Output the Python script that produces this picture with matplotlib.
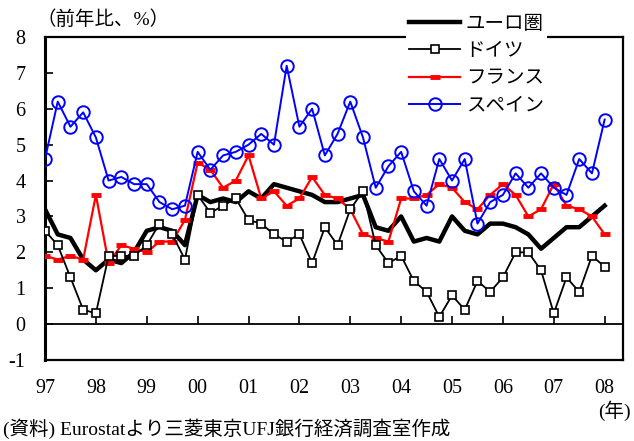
import numpy as np
import matplotlib
matplotlib.use("Agg")
import matplotlib.pyplot as plt

plt.rcParams['font.family'] = ['Liberation Serif', 'Noto Sans CJK JP']
plt.rcParams['axes.unicode_minus'] = False

# quarterly, 1997Q1 .. 2008Q1 (year-on-year %)
quarters = 1997 + np.arange(45) * 0.25

euro = [3.2, 2.5, 2.4, 1.8, 1.5, 1.8, 1.7, 2.0, 2.6, 2.7, 2.6, 2.2,
        3.6, 3.4, 3.5, 3.4, 3.7, 3.5, 3.9, 3.8, 3.7, 3.6, 3.4, 3.4,
        3.5, 3.6, 2.7, 2.6, 3.0, 2.3, 2.4, 2.3, 3.0, 2.6, 2.5, 2.8,
        2.8, 2.7, 2.5, 2.1, 2.4, 2.7, 2.7, 3.0, 3.3]
germany = [2.6, 2.2, 1.3, 0.4, 0.3, 1.9, 1.9, 1.9, 2.2, 2.8, 2.5, 1.8,
           3.6, 3.1, 3.3, 3.5, 2.9, 2.8, 2.5, 2.3, 2.5, 1.7, 2.7, 2.2,
           3.2, 3.7, 2.2, 1.7, 1.9, 1.2, 0.9, 0.2, 0.8, 0.4, 1.2, 0.9,
           1.3, 2.0, 2.0, 1.5, 0.3, 1.3, 0.9, 1.9, 1.6]
france = [1.9, 1.8, 1.9, 1.8, 3.6, 1.7, 2.2, 2.1, 2.0, 2.3, 2.3, 2.9,
          4.5, 4.3, 3.8, 4.0, 4.7, 3.5, 3.7, 3.3, 3.5, 4.1, 3.6, 3.5,
          3.2, 2.5, 2.4, 2.3, 3.5, 3.5, 3.6, 3.9, 3.8, 3.4, 3.2, 3.6,
          3.9, 3.6, 3.0, 3.2, 3.9, 3.3, 3.2, 3.0, 2.5]
spain = [4.6, 6.2, 5.5, 5.9, 5.2, 4.0, 4.1, 3.9, 3.9, 3.4, 3.2, 3.3,
         4.8, 4.3, 4.7, 4.8, 5.0, 5.3, 5.0, 7.2, 5.5, 6.0, 4.7, 5.3,
         6.2, 5.2, 3.8, 4.4, 4.8, 3.7, 3.3, 4.6, 4.0, 4.6, 2.8, 3.4,
         3.6, 4.2, 3.8, 4.2, 3.8, 3.6, 4.6, 4.2, 5.7]

years = np.arange(1997, 2009)
year_labels = ['97', '98', '99', '00', '01', '02', '03', '04', '05', '06', '07', '08']

fig = plt.figure(figsize=(6.34, 4.41), dpi=100)
ax = fig.add_axes([0.071, 0.1837, 0.9116, 0.7324])

ax.plot(quarters, euro, color='black', lw=3.2, label='ユーロ圏', zorder=3)
ax.plot(quarters, germany, color='black', lw=1.3, marker='s', ms=6,
        mfc='white', mec='black', mew=1.2, label='ドイツ', zorder=4)
ax.plot(quarters, france, color='red', lw=1.6, marker='_', ms=7, mew=3.5,
        label='フランス', zorder=3)
ax.plot(quarters, spain, color='blue', lw=1.4, marker='o', ms=9,
        mfc='none', mec='blue', mew=1.4, label='スペイン', zorder=3)

ax.set_xlim(1997, 2008.36)
ax.set_ylim(-1, 8)
ax.axhline(0, color='black', lw=1.3, zorder=2)
# year ticks sit on the zero line, pointing up
ax.vlines(years[1:], 0, 0.22, color='black', lw=1.2)

ax.set_xticks(years)
ax.set_xticklabels(year_labels)
ax.tick_params(axis='x', length=0, pad=14, labelsize=14.5)
ax.set_yticks(range(-1, 9))
ax.tick_params(axis='y', direction='in', length=6, width=1.2, pad=14,
               labelsize=14.5)
for s in ax.spines.values():
    s.set_linewidth(1.6)
ax.spines['left'].set_linewidth(2.2)

leg = ax.legend(loc='upper left', bbox_to_anchor=(0.641, 0.972, 0, 0),
                bbox_transform=fig.transFigure, frameon=True, fancybox=False,
                edgecolor='none', facecolor='white', framealpha=1,
                fontsize=14, handlelength=2.6, handletextpad=0.3,
                labelspacing=0.5, borderpad=0.15, borderaxespad=0)
leg.set_zorder(10)

fig.text(0.058, 0.955, '（前年比、%）', fontsize=14, ha='left', va='center')
fig.text(0.995, 0.068, '(年)', fontsize=14, ha='right', va='center')
fig.text(0.005, 0.027, '(資料) Eurostatより三菱東京UFJ銀行経済調査室作成',
         fontsize=14, ha='left', va='center')

fig.savefig('out.png', dpi=100)
